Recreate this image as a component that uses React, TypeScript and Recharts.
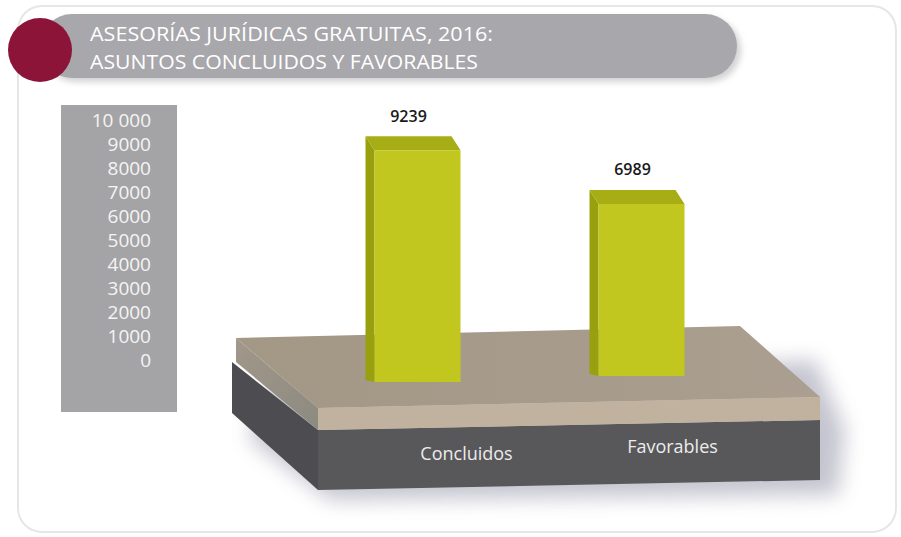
import React from "react";
import { BarChart, Bar, XAxis, YAxis, Customized } from "recharts";

if (typeof document !== "undefined") {
  document.body.style.margin = "0";
  document.body.style.overflow = "hidden";
}

const categories = ["Concluidos", "Favorables"];
const values = [9239, 6989];
const yTicks = [0, 1000, 2000, 3000, 4000, 5000, 6000, 7000, 8000, 9000, 10000];
const titleLines = ["ASESORÍAS JURÍDICAS GRATUITAS, 2016:", "ASUNTOS CONCLUIDOS Y FAVORABLES"];

const data = categories.map((name, i) => ({ name, value: values[i] }));

const W = 901;
const H = 537;
const FONT = "'Open Sans', 'Noto Sans', sans-serif";
const TILT = -6; // perspective drop per category
const DEPTH_X = 9;
const DEPTH_Y = 14;

const fmt = (v: number) => (v >= 10000 ? String(v).replace(/(\d)(\d{3})$/, "$1 $2") : String(v));

const Box3D = (props: any) => {
  const { x, y, width, height, index, value } = props;
  const dy = TILT * (index || 0);
  const top = y + dy;
  const bottom = y + height + dy;
  const front = `${x},${top + DEPTH_Y} ${x + width},${top + DEPTH_Y} ${x + width},${bottom} ${x},${bottom}`;
  const topFace = `${x - DEPTH_X},${top} ${x + width - DEPTH_X},${top} ${x + width},${top + DEPTH_Y} ${x},${top + DEPTH_Y}`;
  const side = `${x - DEPTH_X},${top} ${x},${top + DEPTH_Y} ${x},${bottom} ${x - DEPTH_X},${bottom - 2}`;
  const v = Array.isArray(value) ? value[1] : value;
  return (
    <g>
      <polygon points={side} fill="#98a00e" />
      <polygon points={topFace} fill="#a6ad15" />
      <polygon points={front} fill="#c1c71f" />
      <text
        x={x + width / 2 - DEPTH_X}
        y={top - 19}
        textAnchor="middle"
        dominantBaseline="middle"
        fontFamily={FONT}
        fontSize={16}
        fontWeight={600}
        fill="#1a1a1a"
      >
        {v}
      </text>
    </g>
  );
};

const CatTick = (props: any) => {
  const { x, y, payload, index } = props;
  return (
    <text
      x={x + 49 - 18 * index}
      y={y + 73 - 7 * index}
      textAnchor="middle"
      dominantBaseline="middle"
      fontFamily={FONT}
      fontSize={18}
      fill="#ececec"
    >
      {payload.value}
    </text>
  );
};

const Background = () => (
  <g>
    <defs>
      <filter id="blur8" x="-30%" y="-30%" width="160%" height="160%">
        <feGaussianBlur stdDeviation="10" />
      </filter>
      <filter id="blur3" x="-10%" y="-30%" width="120%" height="160%">
        <feGaussianBlur stdDeviation="3" />
      </filter>
      <linearGradient id="tanSide" x1="0" y1="0" x2="1" y2="1">
        <stop offset="0" stopColor="#a2978a" />
        <stop offset="1" stopColor="#8c8a80" />
      </linearGradient>
      <linearGradient id="tanTop" x1="0" y1="0" x2="1" y2="0">
        <stop offset="0" stopColor="#a39785" />
        <stop offset="1" stopColor="#aa9f90" />
      </linearGradient>
    </defs>
    <rect x={18} y={6} width={878} height={526} rx={24} fill="#ffffff" stroke="#e6e6e6" strokeWidth={2} />
    {/* title banner */}
    <rect x={44} y={18} width={697} height={64} rx={32} fill="#8f8f93" opacity={0.4} filter="url(#blur3)" />
    <rect x={40} y={14} width={697} height={64} rx={32} fill="#a8a7ab" />
    <circle cx={40} cy={50} r={32} fill="#8b1438" />
    <text x={90} y={41} fontFamily={FONT} fontSize={20} fill="#ffffff" textLength={403} lengthAdjust="spacingAndGlyphs">
      {titleLines[0]}
    </text>
    <text x={90} y={69} fontFamily={FONT} fontSize={20} fill="#ffffff" textLength={388} lengthAdjust="spacingAndGlyphs">
      {titleLines[1]}
    </text>
    {/* y-axis panel */}
    <rect x={61} y={105} width={116} height={307} fill="#a4a4a7" />
    {/* platform shadow */}
    <polygon points="260,390 815,360 845,430 838,495 330,500 250,440" fill="#6e6e8a" opacity={0.4} filter="url(#blur8)" />
    {/* dark slab */}
    <polygon points="232,362 318,430 318,490 232,413" fill="#4d4d51" />
    <polygon points="318,430 820,420 820,480 318,490" fill="#58585b" />
    {/* tan slab */}
    <polygon points="236,338 318,408 318,430 236,362" fill="url(#tanSide)" />
    <polygon points="236,338 740,326 820,397 318,408" fill="url(#tanTop)" />
    <polygon points="318,408 820,397 820,420 318,430" fill="#c0b29e" />
  </g>
);

export default function App() {
  return (
    <div style={{ width: W, height: H, background: "#ffffff" }}>
      <BarChart
        width={W}
        height={H}
        data={data}
        margin={{ top: 116, right: 147.5, bottom: 125, left: 155.5 }}
      >
        <Customized component={Background} />
        <XAxis
          dataKey="name"
          axisLine={false}
          tickLine={false}
          tickSize={0}
          tickMargin={0}
          height={30}
          tick={<CatTick />}
          interval={0}
        />
        <YAxis yAxisId="v" hide type="number" domain={[0, 10000]} />
        <YAxis
          yAxisId="t"
          type="number"
          width={150}
          domain={[-916.7, 10166.7]}
          allowDataOverflow
          ticks={yTicks}
          interval={0}
          axisLine={false}
          tickLine={false}
          tickSize={0}
          tickMargin={154.5}
          tickFormatter={fmt}
          tick={{ fill: "#f4f4f4", fontSize: 19, fontFamily: FONT }}
        />
        <Bar yAxisId="v" dataKey="value" barSize={86} isAnimationActive={false} shape={<Box3D />} />
      </BarChart>
    </div>
  );
}
